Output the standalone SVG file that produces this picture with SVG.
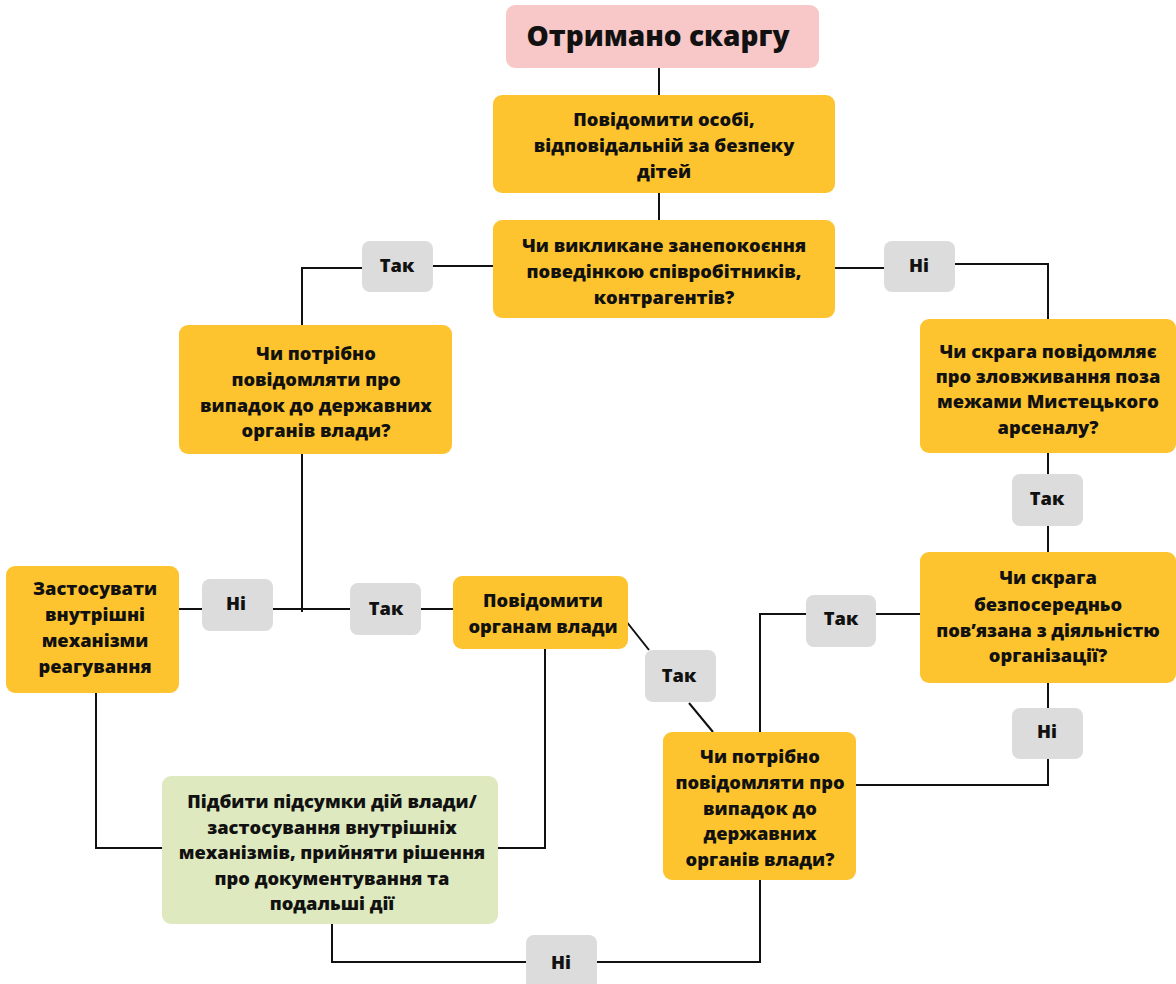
<svg xmlns="http://www.w3.org/2000/svg" width="1176" height="984" viewBox="0 0 1176 984">
<style>
.y{fill:#fdc42f}
.g{fill:#dcdcdc}
.t{font-family:"Open Sans","Noto Sans",sans-serif;font-weight:800;font-size:18.3px;fill:#111;text-anchor:middle}
.c{fill:none;stroke:#111;stroke-width:2}
</style>
<rect width="1176" height="984" fill="#fff"/>
<g id="connectors" class="c">
<path d="M659 68V95M659 193V220"/>
<path d="M493 266H433M362 268H302V325"/>
<path d="M835 268H884M955 264H1048V319"/>
<path d="M1048 453V474M1048 526V552"/>
<path d="M302 454V612"/>
<path d="M179 609H202M273 609H350M421 609H453"/>
<path d="M626 621L649 650M689 703L713 732"/>
<path d="M545 649V848H498"/>
<path d="M96 693V848H162"/>
<path d="M332 924V962H526M597 962H760V880"/>
<path d="M760 732V614H806M876 614H920"/>
<path d="M1048 683V708M1048 759V785H856"/>
</g>
<g id="start"><rect x="506" y="5" width="313" height="63" rx="9" fill="#f8c7c7"/><text class="t" x="658" y="46" style="font-size:28px">Отримано скаргу</text></g>
<g id="notify-person"><rect class="y" x="493" y="95" width="342" height="98" rx="9"/><text class="t" x="664"><tspan x="664" y="126">Повідомити особі,</tspan><tspan x="664" y="152">відповідальній за безпеку</tspan><tspan x="664" y="178">дітей</tspan></text></g>
<g id="q-staff"><rect class="y" x="493" y="220" width="342" height="98" rx="9"/><text class="t"><tspan x="664" y="252">Чи викликане занепокоєння</tspan><tspan x="664" y="278">поведінкою співробітників,</tspan><tspan x="664" y="304">контрагентів?</tspan></text></g>
<g id="l-tak1"><rect class="g" x="362" y="241" width="71" height="51" rx="8"/><text class="t" x="397" y="272">Так</text></g>
<g id="l-ni1"><rect class="g" x="884" y="241" width="71" height="51" rx="8"/><text class="t" x="919" y="272">Ні</text></g>
<g id="q-state1"><rect class="y" x="179" y="325" width="273" height="129" rx="9"/><text class="t"><tspan x="316" y="360">Чи потрібно</tspan><tspan x="316" y="386">повідомляти про</tspan><tspan x="316" y="412">випадок до державних</tspan><tspan x="316" y="437">органів влади?</tspan></text></g>
<g id="q-outside"><rect class="y" x="920" y="319" width="256" height="134" rx="9"/><text class="t"><tspan x="1048" y="358">Чи скрага повідомляє</tspan><tspan x="1048" y="383">про зловживання поза</tspan><tspan x="1048" y="408">межами Мистецького</tspan><tspan x="1048" y="434">арсеналу?</tspan></text></g>
<g id="l-tak2"><rect class="g" x="1012" y="474" width="71" height="52" rx="8"/><text class="t" x="1047" y="505">Так</text></g>
<g id="q-direct"><rect class="y" x="920" y="552" width="256" height="131" rx="9"/><text class="t"><tspan x="1048" y="584">Чи скрага</tspan><tspan x="1048" y="611">безпосередньо</tspan><tspan x="1048" y="637">пов’язана з діяльністю</tspan><tspan x="1048" y="662">організації?</tspan></text></g>
<g id="l-tak3"><rect class="g" x="806" y="595" width="70" height="52" rx="8"/><text class="t" x="841" y="625">Так</text></g>
<g id="l-ni2"><rect class="g" x="1012" y="708" width="71" height="51" rx="8"/><text class="t" x="1047" y="738">Ні</text></g>
<g id="q-state2"><rect class="y" x="663" y="732" width="193" height="148" rx="9"/><text class="t"><tspan x="760" y="763">Чи потрібно</tspan><tspan x="760" y="789">повідомляти про</tspan><tspan x="760" y="815">випадок до</tspan><tspan x="760" y="840">державних</tspan><tspan x="760" y="866">органів влади?</tspan></text></g>
<g id="notify-auth"><rect class="y" x="453" y="576" width="175" height="73" rx="9"/><text class="t"><tspan x="543" y="607">Повідомити</tspan><tspan x="543" y="633">органам влади</tspan></text></g>
<g id="l-tak4"><rect class="g" x="645" y="650" width="71" height="52" rx="8"/><text class="t" x="679" y="682">Так</text></g>
<g id="l-tak5"><rect class="g" x="350" y="583" width="71" height="52" rx="8"/><text class="t" x="386" y="615">Так</text></g>
<g id="l-ni3"><rect class="g" x="202" y="579" width="71" height="52" rx="8"/><text class="t" x="236" y="610">Ні</text></g>
<g id="internal"><rect class="y" x="6" y="566" width="173" height="127" rx="9"/><text class="t"><tspan x="95" y="595">Застосувати</tspan><tspan x="95" y="621">внутрішні</tspan><tspan x="95" y="647">механізми</tspan><tspan x="95" y="673">реагування</tspan></text></g>
<g id="summary"><rect x="162" y="776" width="336" height="148" rx="9" fill="#dfe9bf"/><text class="t"><tspan x="332" y="808">Підбити підсумки дій влади/</tspan><tspan x="332" y="834">застосування внутрішніх</tspan><tspan x="332" y="859">механізмів, прийняти рішення</tspan><tspan x="332" y="885">про документування та</tspan><tspan x="332" y="910">подальші дії</tspan></text></g>
<g id="l-ni4"><rect class="g" x="526" y="935" width="71" height="56" rx="8"/><text class="t" x="561" y="969">Ні</text></g>
</svg>
